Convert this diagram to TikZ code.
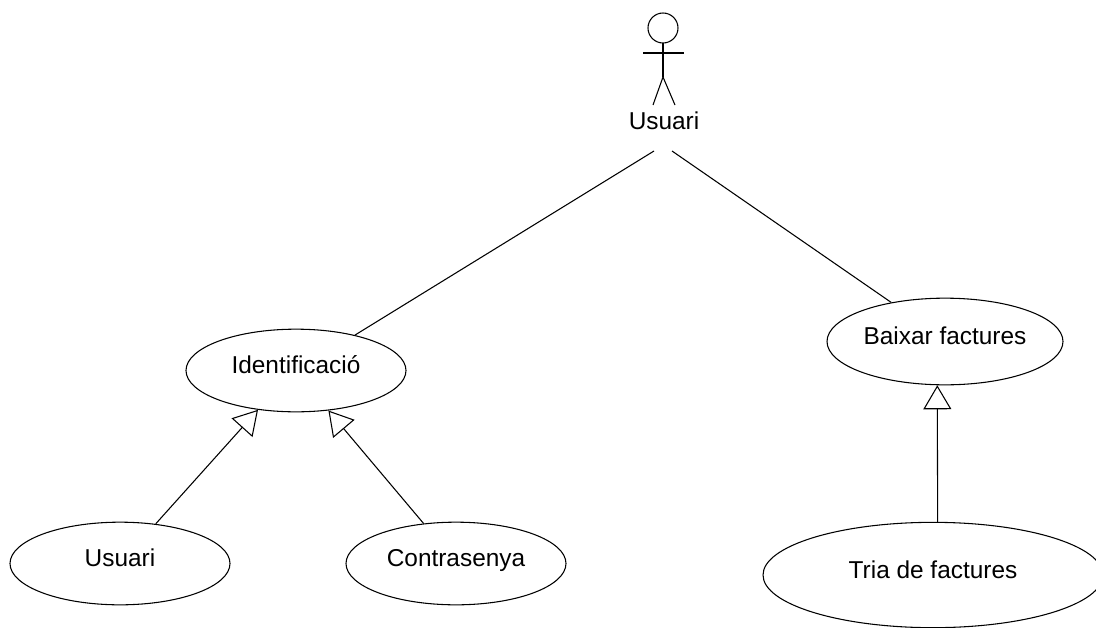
\documentclass[tikz,border=0pt]{standalone}
\usepackage{fontspec}
\setmainfont{Liberation Sans}
\usetikzlibrary{shapes.geometric,arrows.meta}
\tikzset{
  usecase/.style={ellipse,draw,thick,inner sep=0pt,text height=13pt,text depth=8pt,font=\fontsize{18.3}{22}\selectfont},
  generalizes/.style={thick,-{Triangle[open,length=18pt,width=21pt]}},
}
\begin{document}
\begin{tikzpicture}[x=0.75pt,y=-0.75pt]
        \useasboundingbox (0,0) rectangle (1096,628);
        % actor
        \draw[thick] (663,28) circle [radius=15];
        \draw[thick] (663,43) -- (663,77);
        \draw[thick] (643,53) -- (684,53);
        \draw[thick] (663,77) -- (653,105);
        \draw[thick] (663,77) -- (675,105);
        \node[font=\fontsize{18.3}{22}\selectfont] (actor) at (664,121) {Usuari};
        \coordinate (actorL) at (654,151);
        \coordinate (actorR) at (672,151);

        % use cases
        \node[usecase,minimum width=165pt,minimum height=62pt] (ident) at (296,370.5) {Identificació};
        \node[usecase,minimum width=177pt,minimum height=65pt] (baixar) at (945,341.5) {Baixar factures};
        \node[usecase,minimum width=165pt,minimum height=62pt] (usuari) at (120,563.5) {Usuari};
        \node[usecase,minimum width=165pt,minimum height=62pt] (contra) at (456,563.5) {Contrasenya};
        \node[usecase,minimum width=255pt,minimum height=79pt] (tria) at (933,575) {Tria de factures};

        % connectors
        \draw[thick] (actorL) -- (ident.31);
        \draw[thick] (actorR) -- (baixar.144.5);
        \draw[generalizes] (usuari.48) -- (ident.226.5);
        \draw[generalizes] (contra.129.5) -- (ident.309);
        \draw[generalizes] (tria.85) -- (baixar.260);
\end{tikzpicture}
\end{document}
